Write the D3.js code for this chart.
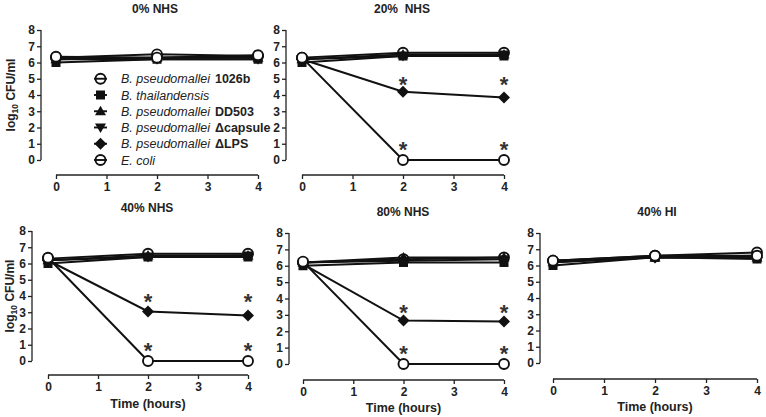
<!DOCTYPE html>
<html><head><meta charset="utf-8">
<script src="https://cdn.jsdelivr.net/npm/d3@7"></script>
<style>
body{margin:0;background:#fff;}
svg{display:block;font-family:"Liberation Sans",Arial,sans-serif;}
</style></head>
<body><svg id="c" width="766" height="417"></svg>
<script>
// ---- data ----
const times = [0, 2, 4];
const xTicks = [0, 1, 2, 3, 4];
const yTicks = [0, 1, 2, 3, 4, 5, 6, 7, 8];
const seriesNames = ["1026b", "thailandensis", "DD503", "capsule", "LPS", "ecoli"];
const panelTitles = ["0% NHS", "20%  NHS", "40% NHS", "80% NHS", "40% HI"];

const nhs0 = [
  [6.3, 6.5, 6.4], [6.0, 6.2, 6.2], [6.2, 6.3, 6.3],
  [6.2, 6.2, 6.2], [6.3, 6.3, 6.4], [6.35, 6.3, 6.45]
];
const nhs20 = [
  [6.3, 6.6, 6.6], [6.0, 6.4, 6.4], [6.2, 6.5, 6.5],
  [6.2, 6.4, 6.5], [6.2, 4.2, 3.85], [6.3, 0, 0]
];
const nhs40 = [
  [6.3, 6.6, 6.6], [6.0, 6.4, 6.4], [6.2, 6.5, 6.5],
  [6.2, 6.4, 6.5], [6.2, 3.05, 2.8], [6.35, 0, 0]
];
const nhs80 = [
  [6.2, 6.4, 6.5], [6.0, 6.2, 6.2], [6.2, 6.5, 6.5],
  [6.2, 6.3, 6.4], [6.1, 2.65, 2.6], [6.25, 0, 0]
];
const hi40 = [
  [6.3, 6.6, 6.8], [6.0, 6.5, 6.4], [6.2, 6.5, 6.5],
  [6.2, 6.5, 6.6], [6.3, 6.5, 6.5], [6.3, 6.6, 6.6]
];
// asterisk positions [time, y value]
const stars0 = [];
const stars20 = [[2, 4.9], [4, 4.9], [2, 0.9], [4, 0.9]];
const stars40 = [[2, 3.95], [4, 3.95], [2, 0.95], [4, 0.95]];
const stars80 = [[2, 3.45], [4, 3.45], [2, 0.9], [4, 0.9]];
const starsHI = [];

// ---- layout ----
const panels = [
  {data: nhs0, stars: stars0, ax: 41, yt: 30, yb: 160, xay: 175, x0: 56, x1: 258, tx: 155, ty: 13, ylab: 15, legend: true},
  {data: nhs20, stars: stars20, ax: 286, yt: 30, yb: 160, xay: 175, x0: 302, x1: 504, tx: 402, ty: 13},
  {data: nhs40, stars: stars40, ax: 32, yt: 231, yb: 361, xay: 375, x0: 48, x1: 248, tx: 147, ty: 212, ylab: 14, time: 408},
  {data: nhs80, stars: stars80, ax: 289, yt: 233, yb: 364, xay: 380, x0: 303, x1: 504, tx: 403, ty: 216, time: 412},
  {data: hi40, stars: starsHI, ax: 540, yt: 233, yb: 363, xay: 379, x0: 553, x1: 757, tx: 657, ty: 216, time: 411}
];

const svg = d3.select("#c");
const shapes = ["circle", "square", "tri", "tridown", "diamond", "circle"];

function marker(g, type, x, y, open) {
  if (type === "circle") {
    g.append("circle").attr("cx", x).attr("cy", y).attr("r", 5)
      .attr("fill", open ? "none" : "#fff").attr("stroke", "#111").attr("stroke-width", 1.9);
  } else if (type === "square") {
    g.append("rect").attr("x", x - 4.5).attr("y", y - 4.5).attr("width", 9).attr("height", 9).attr("fill", "#111");
  } else if (type === "tri") {
    g.append("path").attr("d", `M${x},${y - 5.5}L${x + 5.5},${y + 4}L${x - 5.5},${y + 4}Z`).attr("fill", "#111");
  } else if (type === "tridown") {
    g.append("path").attr("d", `M${x},${y + 5.5}L${x + 5.5},${y - 4}L${x - 5.5},${y - 4}Z`).attr("fill", "#111");
  } else if (type === "diamond") {
    g.append("path").attr("d", `M${x},${y - 6}L${x + 6},${y}L${x},${y + 6}L${x - 6},${y}Z`).attr("fill", "#111");
  }
}

panels.forEach((p, pi) => {
  const x = d3.scaleLinear().domain([0, 4]).range([p.x0, p.x1]);
  const y = d3.scaleLinear().domain([0, 8]).range([p.yb, p.yt]);
  const g = svg.append("g");

  // y axis
  const ya = g.append("g").attr("transform", `translate(${p.ax},0)`)
    .call(d3.axisLeft(y).tickValues(yTicks).tickSize(4).tickPadding(2).tickFormat(d3.format("d")));
  ya.select(".domain").attr("d", `M0,${p.yt}V${p.yb}`).attr("stroke", "#222").attr("stroke-width", 1.3);
  ya.selectAll(".tick line").attr("stroke", "#222").attr("stroke-width", 1.3);
  ya.selectAll("text").attr("font-size", 12).attr("font-weight", "bold").attr("fill", "#222")
    .attr("font-family", "Liberation Sans, Arial, sans-serif");

  // x axis
  const xa = g.append("g").attr("transform", `translate(0,${p.xay})`)
    .call(d3.axisBottom(x).tickValues(xTicks).tickSize(4).tickPadding(3).tickFormat(d3.format("d")));
  xa.select(".domain").attr("d", `M${p.x0},0H${p.x1}`).attr("stroke", "#222").attr("stroke-width", 1.3);
  xa.selectAll(".tick line").attr("stroke", "#222").attr("stroke-width", 1.3);
  xa.selectAll("text").attr("font-size", 12).attr("font-weight", "bold").attr("fill", "#222")
    .attr("font-family", "Liberation Sans, Arial, sans-serif");

  // title
  g.append("text").attr("x", p.tx).attr("y", p.ty).attr("text-anchor", "middle")
    .attr("font-size", 12).attr("font-weight", "bold").attr("fill", "#222")
    .attr("xml:space", "preserve").style("white-space", "pre").text(panelTitles[pi]);

  // y label
  if (p.ylab !== undefined) {
    const cy = (p.yt + p.yb) / 2;
    const t = g.append("text").attr("transform", `translate(${p.ylab},${cy}) rotate(-90)`)
      .attr("text-anchor", "middle").attr("font-size", 12).attr("font-weight", "bold").attr("fill", "#222");
    t.append("tspan").text("log");
    t.append("tspan").attr("font-size", 8.5).attr("dy", 3).text("10");
    t.append("tspan").attr("dy", -3).text(" CFU/ml");
  }
  if (p.time !== undefined) {
    g.append("text").attr("x", (p.x0 + p.x1) / 2).attr("y", p.time).attr("text-anchor", "middle")
      .attr("font-size", 12.5).attr("font-weight", "bold").attr("fill", "#222").text("Time (hours)");
  }

  // lines
  const line = d3.line().x((d, i) => x(times[i])).y(d => y(d));
  p.data.forEach((s, si) => {
    g.append("path").attr("d", line(s)).attr("fill", "none").attr("stroke", "#111").attr("stroke-width", 2);
  });
  p.data.forEach((s, si) => {
    s.forEach((v, i) => marker(g, shapes[si], x(times[i]), y(v), false));
  });

  // stars
  p.stars.forEach(st => {
    g.append("text").attr("x", x(st[0])).attr("y", y(st[1]) + 12).attr("text-anchor", "middle")
      .attr("font-size", 22).attr("font-weight", "bold").attr("fill", "#333").text("*");
  });

  // legend
  if (p.legend) {
    const labels = [
      ["B. pseudomallei", "1026b"], ["B. thailandensis", ""], ["B. pseudomallei", "DD503"],
      ["B. pseudomallei", "\u0394capsule"], ["B. pseudomallei", "\u0394LPS"], ["E. coli", ""]
    ];
    labels.forEach((lab, li) => {
      const ly = y(5 - li);
      g.append("line").attr("x1", 94).attr("x2", 107).attr("y1", ly).attr("y2", ly)
        .attr("stroke", "#111").attr("stroke-width", 1.9);
      marker(g, shapes[li], 100.5, ly, true);
      const t = g.append("text").attr("x", 121).attr("y", ly + 4.5).attr("font-size", 12.5).attr("fill", "#222");
      t.append("tspan").attr("font-style", "italic").text(lab[0]);
      if (lab[1]) t.append("tspan").attr("font-weight", "bold").attr("dx", 5).text(lab[1]);
    });
  }
});
</script>
</body></html>
